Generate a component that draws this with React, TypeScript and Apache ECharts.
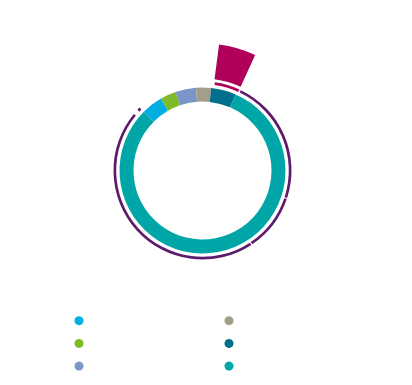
import React, { useEffect, useRef } from "react";
import * as echarts from "echarts";

// Inner ring: categories and their shares (in degrees of the circle)
const categories = ["Category 1", "Category 2", "Category 3", "Category 4", "Category 5", "Category 6"];
const values = [15, 11, 14.5, 10.5, 17.5, 291.5];
const colors = ["#00afe1", "#7fba29", "#7b95c6", "#a39e89", "#006f8c", "#00a6a7"];

// Outer thin ring: segments (null colour = empty gap)
const outerNames = ["hl", "g1", "A", "g2", "B", "g3", "C", "g4", "D", "g5"];
const outerValues = [16.5, 1, 82.5, 0.7, 37.3, 0.7, 162.8, 3.5, 2, 53];
const outerColors = ["#b0005a", null, "#5e1a6c", null, "#5e1a6c", null, "#5e1a6c", null, "#5e1a6c", null];

// Exploded highlight sector
const highlightValues = [17, 343];

const leftLegend = categories.slice(0, 3);
const rightLegend = categories.slice(3, 6);

export default function App() {
  const ref = useRef<HTMLDivElement>(null);
  useEffect(() => {
    document.body.style.margin = "0";
    const chart = echarts.init(ref.current!, undefined, { renderer: "svg" });
    const center = [202.5, 170.5];
    const legendCommon = {
      orient: "vertical" as const,
      padding: 0,
      icon: "circle",
      itemWidth: 9,
      itemHeight: 9,
      itemGap: 13.7,
      top: 316.2,
      formatter: () => "",
      textStyle: { fontSize: 8, lineHeight: 9 },
      selectedMode: false,
    };
    chart.setOption({
      animation: false,
      legend: [
        { ...legendCommon, left: 74.5, data: leftLegend },
        { ...legendCommon, left: 224.5, data: rightLegend },
      ],
      series: [
        {
          type: "pie",
          center,
          radius: [69, 83],
          startAngle: 135,
          label: { show: false },
          labelLine: { show: false },
          emphasis: { disabled: true },
          silent: true,
          data: categories.map((n, i) => ({ name: n, value: values[i], itemStyle: { color: colors[i] } })),
        },
        {
          type: "pie",
          center,
          radius: [86.3, 89],
          startAngle: 82,
          label: { show: false },
          labelLine: { show: false },
          emphasis: { disabled: true },
          silent: true,
          data: outerNames.map((n, i) => ({
            name: "outer-" + n,
            value: outerValues[i],
            itemStyle: { color: outerColors[i] || "rgba(0,0,0,0)" },
          })),
        },
        {
          type: "pie",
          center,
          radius: [92, 127],
          startAngle: 82.5,
          label: { show: false },
          labelLine: { show: false },
          emphasis: { disabled: true },
          silent: true,
          data: highlightValues.map((v, i) => ({
            name: "hl-" + i,
            value: v,
            itemStyle: { color: i === 0 ? "#b0005a" : "rgba(0,0,0,0)" },
          })),
        },
      ],
    });
    return () => chart.dispose();
  }, []);
  return <div ref={ref} style={{ position: "absolute", left: 0, top: 0, width: 412, height: 385 }} />;
}
